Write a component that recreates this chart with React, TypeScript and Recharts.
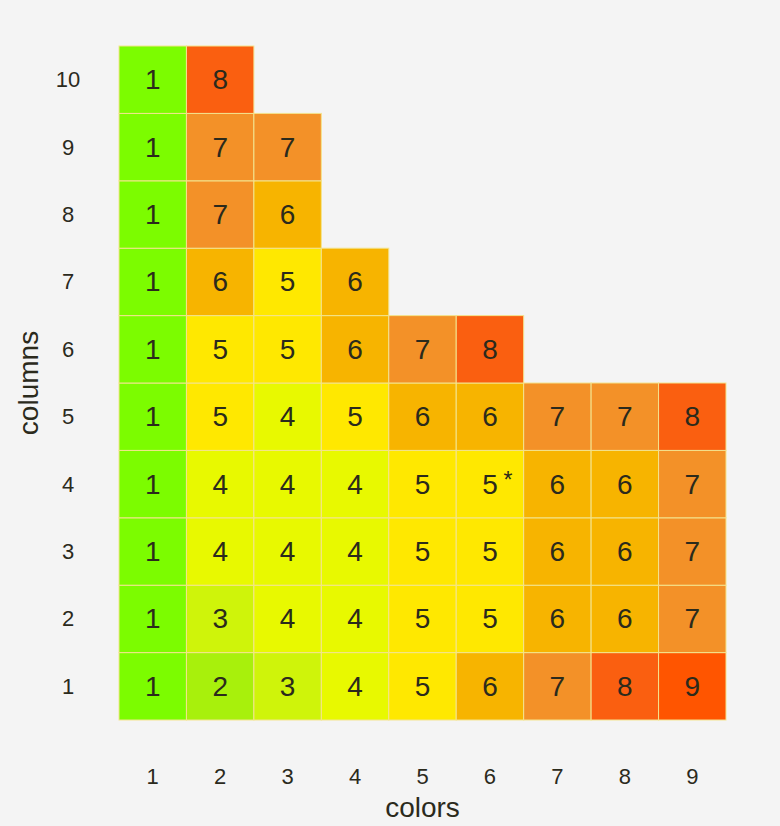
import React from 'react';
import { ScatterChart, Scatter, XAxis, YAxis } from 'recharts';

// categories
const colorTicks = [1, 2, 3, 4, 5, 6, 7, 8, 9];
const columnTicks = [1, 2, 3, 4, 5, 6, 7, 8, 9, 10];

// cell values per "columns" row, read left to right along "colors"
const row1 = [1, 2, 3, 4, 5, 6, 7, 8, 9];
const row2 = [1, 3, 4, 4, 5, 5, 6, 6, 7];
const row3 = [1, 4, 4, 4, 5, 5, 6, 6, 7];
const row4 = [1, 4, 4, 4, 5, 5, 6, 6, 7];
const row5 = [1, 5, 4, 5, 6, 6, 7, 7, 8];
const row6 = [1, 5, 5, 6, 7, 8];
const row7 = [1, 6, 5, 6];
const row8 = [1, 7, 6];
const row9 = [1, 7, 7];
const row10 = [1, 8];
const rows = [row1, row2, row3, row4, row5, row6, row7, row8, row9, row10];

// cells marked with an asterisk
const starred = [{ x: 6, y: 4 }];

const palette: Record<number, string> = {
  1: '#7cfc00',
  2: '#a8f00c',
  3: '#cff40a',
  4: '#e8f900',
  5: '#ffe800',
  6: '#f7b400',
  7: '#f39128',
  8: '#fa5f10',
  9: '#ff5500',
};

const W = 780;
const H = 826;
const M = { top: 46, right: 54, left: 0, bottom: 0 };
const Y_AXIS_W = 119;
const X_AXIS_H = 106;
const PLOT_W = W - M.left - M.right - Y_AXIS_W;
const PLOT_H = H - M.top - M.bottom - X_AXIS_H;
const CELL_W = PLOT_W / colorTicks.length;
const CELL_H = PLOT_H / columnTicks.length;

const cells = rows.flatMap((vals, i) =>
  vals.map((v, j) => ({
    x: colorTicks[j],
    y: columnTicks[i],
    v,
    star: starred.some(s => s.x === colorTicks[j] && s.y === columnTicks[i]),
  }))
);

const font = '"Liberation Sans", Arial, sans-serif';
const textColor = '#2b2a1c';

const Cell = (props: any) => {
  const { cx, cy, payload } = props;
  return (
    <g>
      <rect
        x={cx - CELL_W / 2}
        y={cy - CELL_H / 2}
        width={CELL_W}
        height={CELL_H}
        fill={palette[payload.v]}
        stroke="#f3e48e"
        strokeWidth={1}
      />
      <text
        x={cx}
        y={cy}
        textAnchor="middle"
        dominantBaseline="central"
        fontSize={28}
        fontFamily={font}
        fill={textColor}
      >
        {payload.v}
      </text>
      {payload.star && (
        <text x={cx + 18} y={cy + 4} textAnchor="middle" fontSize={23} fontFamily={font} fill={textColor}>
          *
        </text>
      )}
    </g>
  );
};

const XTick = (props: any) => (
  <text
    x={props.x}
    y={M.top + PLOT_H + 56}
    textAnchor="middle"
    dominantBaseline="central"
    fontSize={22}
    fontFamily={font}
    fill={textColor}
  >
    {props.payload.value}
  </text>
);

const YTick = (props: any) => (
  <text
    x={68}
    y={props.y}
    textAnchor="middle"
    dominantBaseline="central"
    fontSize={22}
    fontFamily={font}
    fill={textColor}
  >
    {props.payload.value}
  </text>
);

const App: React.FC = () => {
  return (
    <div style={{ position: 'absolute', left: 0, top: 0, width: W, height: H, background: '#f4f4f4' }}>
      <ScatterChart width={W} height={H} margin={M}>
        <XAxis
          type="number"
          dataKey="x"
          domain={[0.5, 9.5]}
          ticks={colorTicks}
          axisLine={false}
          tickLine={false}
          height={X_AXIS_H}
          tick={<XTick />}
          label={{
            content: () => (
              <text
                x={Y_AXIS_W + PLOT_W / 2}
                y={807}
                textAnchor="middle"
                dominantBaseline="central"
                fontSize={28}
                fontFamily={font}
                fill={textColor}
              >
                colors
              </text>
            ),
          }}
        />
        <YAxis
          type="number"
          dataKey="y"
          domain={[0.5, 10.5]}
          ticks={columnTicks}
          axisLine={false}
          tickLine={false}
          width={Y_AXIS_W}
          tick={<YTick />}
          label={{
            content: () => (
              <text
                x={28}
                y={M.top + PLOT_H / 2}
                textAnchor="middle"
                dominantBaseline="central"
                fontSize={28}
                fontFamily={font}
                fill={textColor}
                transform={`rotate(-90 28 ${M.top + PLOT_H / 2})`}
              >
                columns
              </text>
            ),
          }}
        />
        <Scatter data={cells} shape={<Cell />} isAnimationActive={false} />
      </ScatterChart>
    </div>
  );
};

export default App;
